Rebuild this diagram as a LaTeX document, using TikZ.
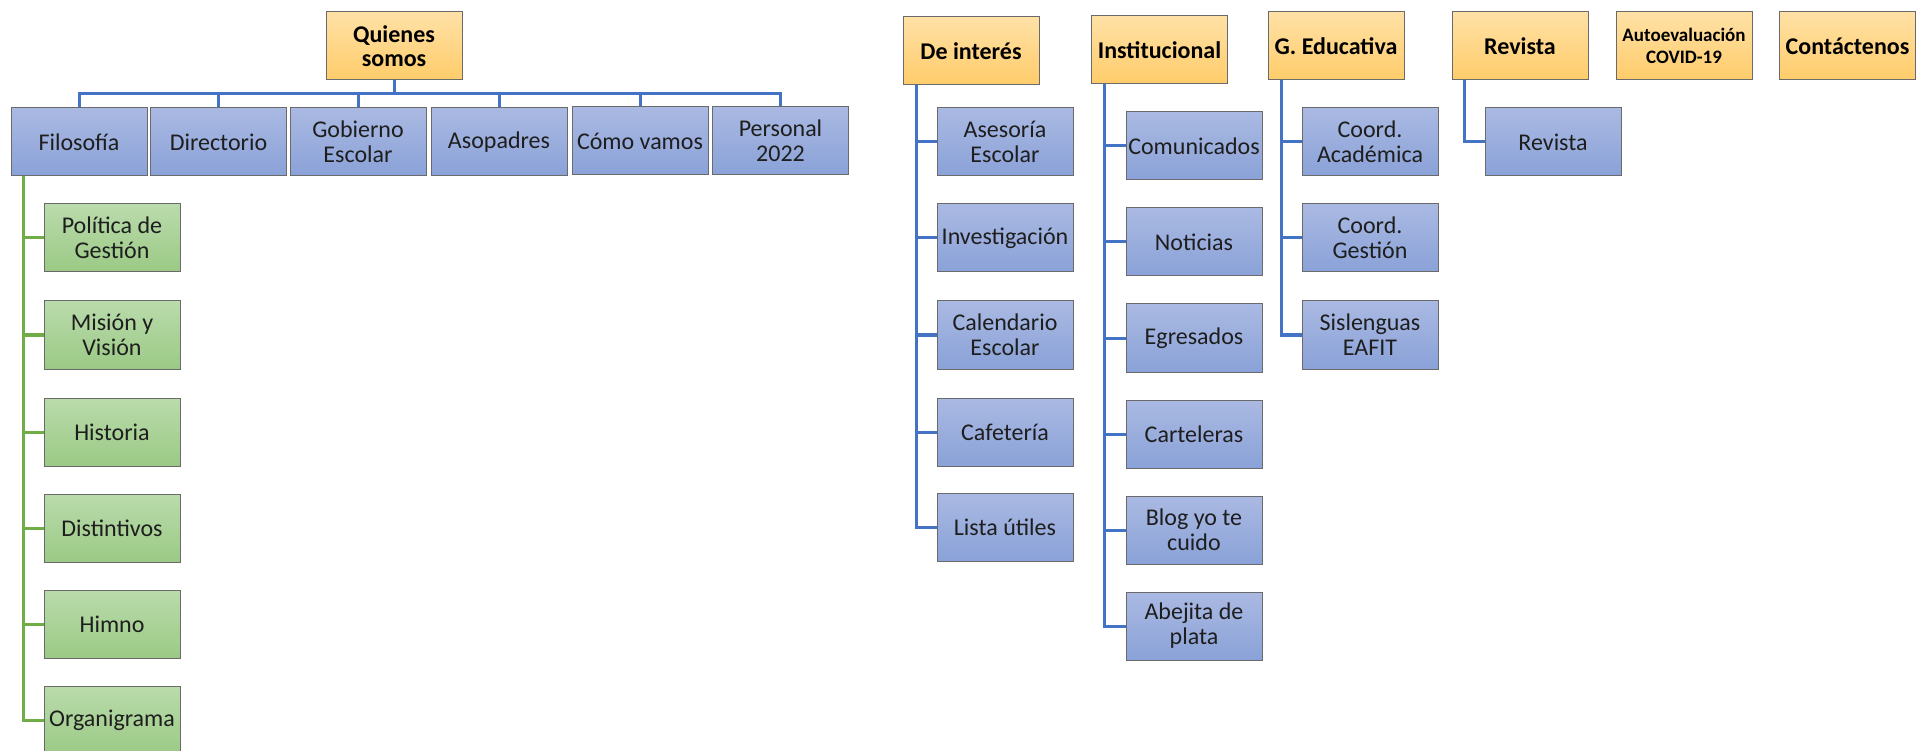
\documentclass[tikz,border=0pt]{standalone}
\usepackage{fontspec}
\setmainfont{Carlito}
\definecolor{orT}{HTML}{FFE1A6}
\definecolor{orB}{HTML}{FFCC6A}
\definecolor{blT}{HTML}{AAB9E2}
\definecolor{blB}{HTML}{8AA2D8}
\definecolor{grT}{HTML}{BADBAC}
\definecolor{grB}{HTML}{9BCA85}
\definecolor{bord}{HTML}{6A6A6A}
\definecolor{lnB}{HTML}{4472C4}
\definecolor{lnG}{HTML}{70AD47}
\definecolor{txt}{HTML}{1E1E1E}
\tikzset{
  boxbase/.style={draw=bord, line width=1pt, minimum width=136pt, minimum height=68pt, inner sep=1pt, align=center, text=txt, font=\fontsize{24}{25}\selectfont},
  hdr/.style={boxbase, top color=orT, bottom color=orB, text=black, font=\bfseries\fontsize{24}{24}\selectfont},
  bl/.style={boxbase, top color=blT, bottom color=blB},
  gr/.style={boxbase, top color=grT, bottom color=grB},
  bc/.style={draw=lnB, line width=3pt},
  gc/.style={draw=lnG, line width=3pt},
}
\begin{document}
\begin{tikzpicture}[x=1pt,y=-1pt]
\useasboundingbox (0,0) rectangle (1925,751);
% ---- Quienes somos
\node[hdr] (q) at (394,46) {Quienes\\somos};
\node[bl] (filo) at (79,142) {Filosofía};
\node[bl] (dir) at (218.5,142) {Directorio};
\node[bl] (gob) at (358,142) {Gobierno\\Escolar};
\node[bl] (aso) at (499,142) {Asopadres};
\node[bl] (como) at (640,141) {Cómo vamos};
\node[bl] (pers) at (780.5,140.5) {Personal\\2022};
\coordinate (qb) at (394,94);
\draw[bc] (q.south) -- (qb);
\foreach \n in {filo,dir,gob,aso,como,pers}{\draw[bc] (qb) -| (\n.north);}
% green children
\node[gr] (pol) at (112,238) {Política de\\Gestión};
\node[gr] (mis) at (112,335) {Misión y\\Visión};
\node[gr] (his) at (112,432) {Historia};
\node[gr] (dis) at (112,528) {Distintivos};
\node[gr] (him) at (112,624) {Himno};
\node[gr] (org) at (112,720) {Organigrama};
\coordinate (ft) at ([xshift=13pt]filo.south west);
\foreach \n in {pol,mis,his,dis,him,org}{\draw[gc] (ft) |- (\n.west);}
% ---- De interés
\node[hdr] (dei) at (971,51) {De interés};
\node[bl] (ase) at (1005,142) {Asesoría\\Escolar};
\node[bl] (inv) at (1005,238) {Investigación};
\node[bl] (cal) at (1005,335) {Calendario\\Escolar};
\node[bl] (caf) at (1005,432) {Cafetería};
\node[bl] (lis) at (1005,527) {Lista útiles};
\coordinate (dt) at ([xshift=14pt]dei.south west);
\foreach \n in {ase,inv,cal,caf,lis}{\draw[bc] (dt) |- (\n.west);}
% ---- Institucional
\node[hdr] (ins) at (1159.5,50) {Institucional};
\node[bl] (com) at (1194,146) {Comunicados};
\node[bl] (not) at (1194,242) {Noticias};
\node[bl] (egr) at (1194,338) {Egresados};
\node[bl] (car) at (1194,434) {Carteleras};
\node[bl] (blo) at (1194,530) {Blog yo te\\cuido};
\node[bl] (abe) at (1194,626) {Abejita de\\plata};
\coordinate (it) at ([xshift=13pt]ins.south west);
\foreach \n in {com,not,egr,car,blo,abe}{\draw[bc] (it) |- (\n.west);}
% ---- G. Educativa
\node[hdr] (ged) at (1336,46) {G. Educativa};
\node[bl] (cac) at (1370,142) {Coord.\\Académica};
\node[bl] (cge) at (1370,238) {Coord.\\Gestión};
\node[bl] (sis) at (1370,335) {Sislenguas\\EAFIT};
\coordinate (gt) at ([xshift=14pt]ged.south west);
\foreach \n in {cac,cge,sis}{\draw[bc] (gt) |- (\n.west);}
% ---- Revista
\node[hdr] (rev) at (1520,46) {Revista};
\node[bl] (rvc) at (1553,142) {Revista};
\coordinate (rt) at ([xshift=13pt]rev.south west);
\draw[bc] (rt) |- (rvc.west);
% ---- others
\node[hdr, font=\bfseries\fontsize{19}{22}\selectfont] (aut) at (1684,46) {Autoevaluación\\COVID-19};
\node[hdr] (con) at (1847.5,46) {Contáctenos};
\end{tikzpicture}
\end{document}
